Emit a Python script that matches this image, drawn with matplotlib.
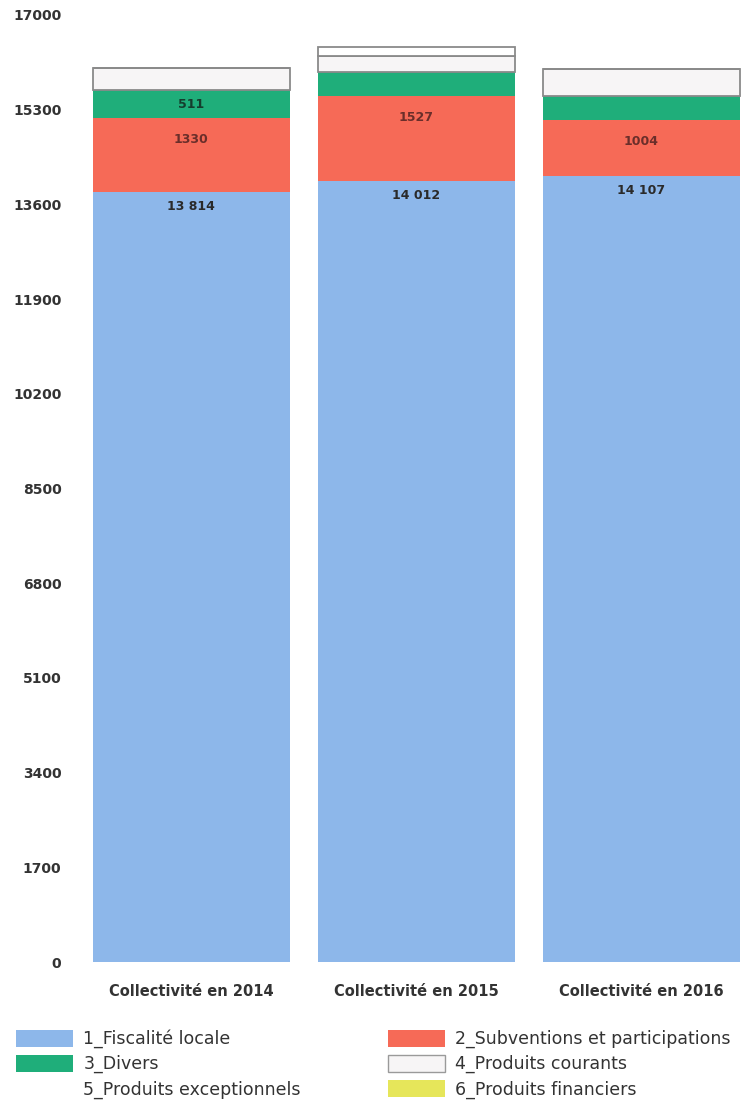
import matplotlib.pyplot as plt
import numpy as np
from matplotlib.patches import Patch

categories = ["Collectivité en 2014", "Collectivité en 2015", "Collectivité en 2016"]
fiscalite = [13814, 14012, 14107]
subventions = [1330, 1527, 1004]
divers = [511, 430, 440]
courants = [395, 290, 485]
exceptionnels = [0, 160, 0]
financiers = [0, 0, 0]
divers_shown = [True, False, False]
y_ticks = [0, 1700, 3400, 5100, 6800, 8500, 10200, 11900, 13600, 15300, 17000]

series = [
    ("1_Fiscalité locale", fiscalite, "#8db7ea", "none", 0),
    ("2_Subventions et participations", subventions, "#f66a57", "none", 0),
    ("3_Divers", divers, "#1fae7a", "none", 0),
    ("4_Produits courants", courants, "#f7f5f6", "#8a8a8a", 1.3),
    ("5_Produits exceptionnels", exceptionnels, "#ffffff", "#8a8a8a", 1.3),
    ("6_Produits financiers", financiers, "#e6e65a", "none", 0),
]
# legend swatches as they appear in the scan
legend_edges = ["none", "none", "none", "#9a9a9a", "none", "none"]


def fmt(v):
    return f"{v:,}".replace(",", " ")


fig = plt.figure(figsize=(7.42, 11.02), dpi=100)
ax = fig.add_axes([85 / 742, 1 - 962 / 1102, 657 / 742, 947 / 1102])

x = np.arange(len(categories))
width = 0.876
bottom = np.zeros(len(categories))
handles = []
for (name, vals, color, edge, lw), ledge in zip(series, legend_edges):
    vals = np.array(vals, dtype=float)
    ax.bar(x, vals, width, bottom=bottom, color=color, edgecolor=edge, linewidth=lw)
    handles.append(Patch(facecolor=color, edgecolor=ledge, linewidth=1.0, label=name))
    bottom = bottom + vals

# value labels near the top of each segment
for i in x:
    top_blue = fiscalite[i]
    ax.text(i, top_blue - 250, fmt(fiscalite[i]), ha="center", va="center",
            fontsize=9, fontweight="bold", color="#2a2a2a")
    top_red = fiscalite[i] + subventions[i]
    ax.text(i, top_red - 380, str(subventions[i]), ha="center", va="center",
            fontsize=9, fontweight="bold", color="#6a2e2a")
    if divers_shown[i]:
        ax.text(i, top_red + divers[i] / 2, str(divers[i]), ha="center", va="center",
                fontsize=9, fontweight="bold", color="#153d2d")

ax.set_xlim(-0.473, 2.447)
ax.set_ylim(0, 17000)
ax.set_yticks(y_ticks)
ax.set_yticklabels([str(t) for t in y_ticks], fontsize=10, fontweight="bold", color="#333333")
ax.set_xticks(x)
ax.set_xticklabels(categories, fontsize=10.5, fontweight="bold", color="#333333")
ax.tick_params(axis="y", length=0, pad=17)
ax.tick_params(axis="x", length=0, pad=16)
for s in ax.spines.values():
    s.set_visible(False)

order = [0, 2, 4, 1, 3, 5]
fig.legend(
    [handles[k] for k in order],
    [handles[k].get_label() for k in order],
    ncol=2,
    loc="upper left",
    bbox_to_anchor=(0.0, 1 - 1014 / 1102),
    frameon=False,
    fontsize=12.5,
    handlelength=3.3,
    handleheight=1.1,
    handletextpad=0.6,
    columnspacing=5.0,
    labelspacing=0.38,
    labelcolor="#333333",
)

fig.savefig("out.png", dpi=100)
